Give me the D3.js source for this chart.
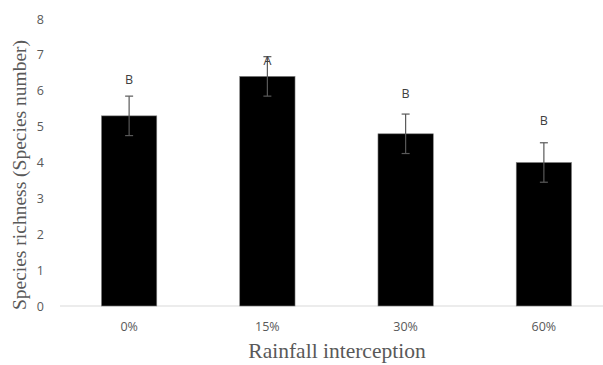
<!DOCTYPE html>
<html>
<head>
<meta charset="utf-8">
<script src="https://cdnjs.cloudflare.com/ajax/libs/d3/7.8.5/d3.min.js"></script>
<style>
  body { margin: 0; background: #fff; }
  svg { display: block; }
</style>
</head>
<body>
<div class="chart"></div>
<script>
// chart data
var categories = ["0%", "15%", "30%", "60%"];
var richness = [5.3, 6.4, 4.8, 4.0];
var errors = [0.55, 0.55, 0.55, 0.55];
var letters = ["B", "A", "B", "B"];
var letterPos = [6.3, 6.85, 5.92, 5.18];
var yTicks = [0, 1, 2, 3, 4, 5, 6, 7, 8];

var svgWidth = 603;
var svgHeight = 365;
var margin = {top: 19, right: -10, bottom: 59, left: 60};
var chartWidth = svgWidth - margin.left - margin.right;
var chartHeight = svgHeight - margin.top - margin.bottom;
var tickFont = "'Open Sans', Carlito, sans-serif";

var svg = d3.select(".chart")
  .append("svg")
  .attr("width", svgWidth)
  .attr("height", svgHeight);

var chart = svg.append("g")
  .attr("transform", "translate(" + margin.left + "," + margin.top + ")");

var xScale = d3.scaleBand()
  .domain(categories)
  .range([0, chartWidth])
  .paddingInner(0.6)
  .paddingOuter(0.3);

var yScale = d3.scaleLinear()
  .domain([0, 8])
  .range([chartHeight, 0]);

// y tick labels (no axis line)
var leftAxis = d3.axisLeft(yScale).tickValues(yTicks).tickSize(0).tickPadding(16);
var yAxisG = chart.append("g").call(leftAxis);
yAxisG.select(".domain").remove();
yAxisG.selectAll("text")
  .attr("fill", "#595959")
  .style("font-family", tickFont)
  .style("font-size", "12.5px");

// baseline
chart.append("line")
  .attr("x1", 0).attr("x2", chartWidth)
  .attr("y1", yScale(0)).attr("y2", yScale(0))
  .attr("stroke", "#d9d9d9").attr("stroke-width", 1);

// bars
chart.selectAll(".bar")
  .data(richness)
  .enter().append("rect")
  .attr("class", "bar")
  .attr("x", function(d, i) { return xScale(categories[i]); })
  .attr("y", function(d) { return yScale(d); })
  .attr("width", xScale.bandwidth())
  .attr("height", function(d) { return yScale(0) - yScale(d); })
  .attr("fill", "#000")
  .attr("stroke", "#7f7f7f")
  .attr("stroke-width", 0.6);

// error bars
var err = chart.selectAll(".err")
  .data(richness)
  .enter().append("g")
  .attr("class", "err")
  .attr("stroke", "#595959")
  .attr("stroke-width", 1.2);

err.append("line")
  .attr("x1", function(d, i) { return xScale(categories[i]) + xScale.bandwidth() / 2; })
  .attr("x2", function(d, i) { return xScale(categories[i]) + xScale.bandwidth() / 2; })
  .attr("y1", function(d, i) { return yScale(d + errors[i]); })
  .attr("y2", function(d, i) { return yScale(d - errors[i]); });

[1, -1].forEach(function(sign) {
  err.append("line")
    .attr("x1", function(d, i) { return xScale(categories[i]) + xScale.bandwidth() / 2 - 4; })
    .attr("x2", function(d, i) { return xScale(categories[i]) + xScale.bandwidth() / 2 + 4; })
    .attr("y1", function(d, i) { return yScale(d + sign * errors[i]); })
    .attr("y2", function(d, i) { return yScale(d + sign * errors[i]); });
});

// significance letters
chart.selectAll(".letter")
  .data(letters)
  .enter().append("text")
  .attr("class", "letter")
  .attr("x", function(d, i) { return xScale(categories[i]) + xScale.bandwidth() / 2; })
  .attr("y", function(d, i) { return yScale(letterPos[i]); })
  .attr("dy", "0.35em")
  .attr("text-anchor", "middle")
  .attr("fill", "#404040")
  .style("font-family", tickFont)
  .style("font-size", "12.5px")
  .text(function(d) { return d; });

// x tick labels
chart.selectAll(".xlab")
  .data(categories)
  .enter().append("text")
  .attr("class", "xlab")
  .attr("x", function(d) { return xScale(d) + xScale.bandwidth() / 2; })
  .attr("y", yScale(0) + 21)
  .attr("dy", "0.35em")
  .attr("text-anchor", "middle")
  .attr("fill", "#595959")
  .style("font-family", tickFont)
  .style("font-size", "12.5px")
  .text(function(d) { return d; });

// axis titles
svg.append("text")
  .attr("x", 337)
  .attr("y", 358)
  .attr("text-anchor", "middle")
  .attr("fill", "#595959")
  .style("font-family", "'Liberation Serif', 'Times New Roman', serif")
  .style("font-size", "21.5px")
  .text("Rainfall interception");

svg.append("text")
  .attr("transform", "translate(26,175) rotate(-90)")
  .attr("text-anchor", "middle")
  .attr("fill", "#595959")
  .style("font-family", "'Liberation Serif', 'Times New Roman', serif")
  .style("font-size", "19.5px")
  .text("Species richness (Species number)");
</script>
</body>
</html>
